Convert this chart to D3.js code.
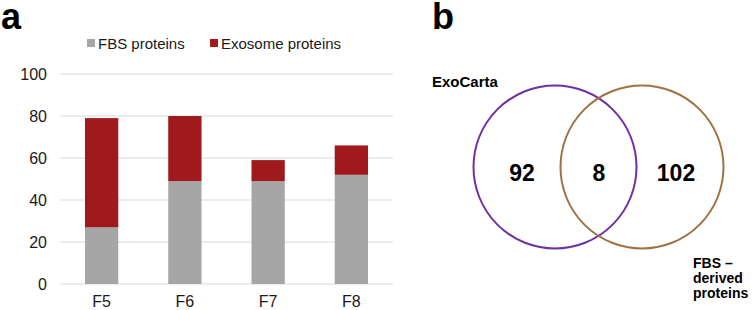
<!DOCTYPE html>
<html lang="en">
<head>
<meta charset="utf-8">
<title>FBS vs exosome proteins</title>
<style>
    body { margin: 0; background: #fff; }
    svg text { font-family: "Liberation Sans", Arial, sans-serif; fill: #1a1a1a; }
    .panel { font-weight: bold; font-size: 36px; fill: #000; }
    .tick text { font-size: 16px; }
</style>
</head>
<body>
<script src="https://d3js.org/d3.v7.min.js"></script>
<script>
  // panel a: stacked bars
  const fractions = ["F5", "F6", "F7", "F8"];
  const fbsProteins = [27, 49, 49, 52];
  const exosomeProteins = [52, 31, 10, 14];
  const seriesNames = ["FBS proteins", "Exosome proteins"];
  const seriesColors = ["#a6a6a6", "#a0191c"];
  const yTicks = [0, 20, 40, 60, 80, 100];

  // panel b: venn
  const vennSets = ["ExoCarta", "FBS \u2013 derived proteins"];
  const vennColors = ["#7030a0", "#a07243"];
  const vennCounts = [92, 8, 102];   // only ExoCarta, both, only FBS

  const W = 755, H = 310;

  const svg = d3.select("body").append("svg")
      .attr("width", W)
      .attr("height", H);

  // ---- a ----
  const x = d3.scaleBand()
      .domain(fractions)
      .range([60, 393])
      .paddingInner(0.6)
      .paddingOuter(0.3);

  const y = d3.scaleLinear()
      .domain([0, 100])
      .range([284, 74]);

  svg.append("text").attr("class", "panel")
      .attr("x", 1).attr("y", 28.5).text("a");

  svg.append("g")
      .selectAll("line")
      .data(yTicks)
      .enter().append("line")
      .attr("x1", 60).attr("x2", 393)
      .attr("y1", d => y(d)).attr("y2", d => y(d))
      .attr("stroke", "#d9d9d9")
      .attr("stroke-width", 1);

  const yAxis = svg.append("g")
      .attr("transform", "translate(60,0)")
      .call(d3.axisLeft(y).tickValues(yTicks).tickSize(0).tickPadding(13));
  yAxis.select(".domain").remove();

  const xAxis = svg.append("g")
      .attr("transform", "translate(0,284)")
      .call(d3.axisBottom(x).tickSize(0).tickPadding(12));
  xAxis.select(".domain").remove();

  svg.selectAll(".tick text").attr("fill", "#1a1a1a");

  const stackData = fractions.map((f, i) => ({
      f: f, fbs: fbsProteins[i], exo: exosomeProteins[i]
  }));
  const stack = d3.stack().keys(["fbs", "exo"])(stackData);

  svg.append("g")
      .selectAll("g")
      .data(stack)
      .enter().append("g")
      .attr("fill", (d, i) => seriesColors[i])
      .selectAll("rect")
      .data(d => d)
      .enter().append("rect")
      .attr("x", d => x(d.data.f))
      .attr("width", x.bandwidth())
      .attr("y", d => y(d[1]))
      .attr("height", d => y(d[0]) - y(d[1]));

  // legend
  const legendX = d3.scaleOrdinal().domain(seriesNames).range([87, 210]);
  const legend = svg.append("g")
      .selectAll("g")
      .data(seriesNames)
      .enter().append("g")
      .attr("transform", d => "translate(" + legendX(d) + ",39)");
  legend.append("rect")
      .attr("width", 8).attr("height", 8)
      .attr("fill", (d, i) => seriesColors[i]);
  legend.append("text")
      .attr("x", 11).attr("y", 9.5)
      .style("font-size", "15px")
      .text(d => d);

  // ---- b ----
  svg.append("text").attr("class", "panel")
      .attr("x", 432).attr("y", 28.5).text("b");

  const cx = d3.scalePoint().domain(vennSets).range([555, 642]);
  const regionX = d3.scalePoint().domain(d3.range(vennCounts.length)).range([522, 676]);
  const cy = 167, r = 81.5;

  svg.append("g")
      .selectAll("circle")
      .data(vennSets)
      .enter().append("circle")
      .attr("cx", d => cx(d))
      .attr("cy", cy)
      .attr("r", r)
      .attr("fill", "none")
      .attr("stroke", (d, i) => vennColors[i])
      .attr("stroke-width", 2);

  svg.append("g")
      .selectAll("text")
      .data(vennCounts)
      .enter().append("text")
      .attr("x", (d, i) => regionX(i))
      .attr("y", 180.5)
      .attr("text-anchor", "middle")
      .style("font-size", "23px")
      .style("font-weight", "bold")
      .style("fill", "#000")
      .text(d => d);

  svg.append("text")
      .attr("x", 432).attr("y", 87)
      .style("font-size", "15px").style("font-weight", "bold").style("fill", "#000")
      .text(vennSets[0]);

  const fbsLines = ["FBS \u2013", "derived", "proteins"];
  svg.append("text")
      .attr("x", 693).attr("y", 268)
      .style("font-size", "14px").style("font-weight", "bold").style("fill", "#000")
      .selectAll("tspan")
      .data(fbsLines)
      .enter().append("tspan")
      .attr("x", 693)
      .attr("dy", (d, i) => i ? 15 : 0)
      .text(d => d);
</script>
</body>
</html>
